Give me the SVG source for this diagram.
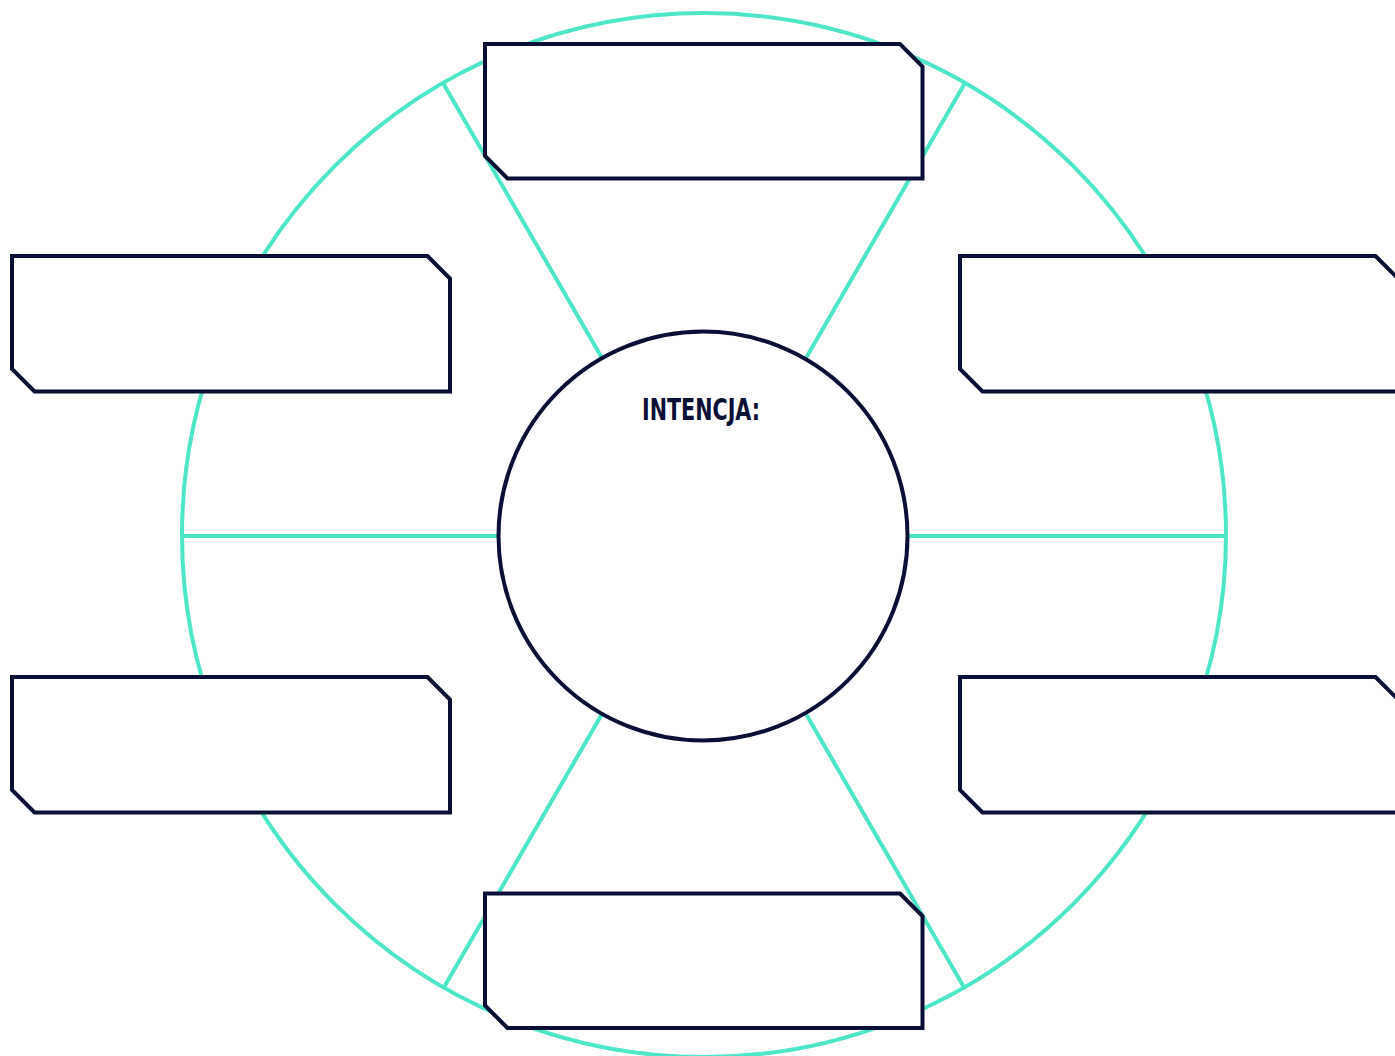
<svg xmlns="http://www.w3.org/2000/svg" width="1395" height="1056" viewBox="0 0 1395 1056">
<style>
.teal{fill:none;stroke:#4de6c6;stroke-width:4}
.box{fill:#ffffff;stroke:#0a0f35;stroke-width:4;stroke-linejoin:miter}
.lbl{font-family:"DejaVu Sans Condensed","DejaVu Sans",sans-serif;font-weight:bold;font-size:31px;fill:#0a0f35}
</style>
<rect width="1395" height="1056" fill="#ffffff"/>
<g id="connectors">
<circle class="teal" cx="704" cy="535" r="522"/>
<line class="teal" x1="182" y1="536" x2="500" y2="536"/>
<line class="teal" x1="906" y1="536" x2="1226" y2="536"/>
<line class="teal" x1="443" y1="83" x2="602" y2="358"/>
<line class="teal" x1="965" y1="83" x2="806" y2="358"/>
<line class="teal" x1="443" y1="989" x2="602" y2="714"/>
<line class="teal" x1="965" y1="989" x2="806" y2="714"/>
</g>
<g id="center">
<circle cx="703" cy="536" r="204.5" fill="#ffffff" stroke="#0a0f35" stroke-width="4"/>
<text class="lbl" x="701" y="420" text-anchor="middle" textLength="118" lengthAdjust="spacingAndGlyphs">INTENCJA:</text>
</g>
<g id="box-top">
<path class="box" d="M485 44 H900 L922.5 66.5 V178.5 H507.5 L485 156 Z"/>
</g>
<g id="box-left-upper">
<path class="box" d="M12 256 H427.5 L450 278.5 V391.5 H34.5 L12 369 Z"/>
</g>
<g id="box-left-lower">
<path class="box" d="M12 677 H427.5 L450 699.5 V812.5 H34.5 L12 790 Z"/>
</g>
<g id="box-right-upper">
<path class="box" d="M960 256 H1375.5 L1398 278.5 V391.5 H982.5 L960 369 Z"/>
</g>
<g id="box-right-lower">
<path class="box" d="M960 677 H1375.5 L1398 699.5 V812.5 H982.5 L960 790 Z"/>
</g>
<g id="box-bottom">
<path class="box" d="M485 893.5 H900 L922.5 916 V1028 H507.5 L485 1005.5 Z"/>
</g>
</svg>
